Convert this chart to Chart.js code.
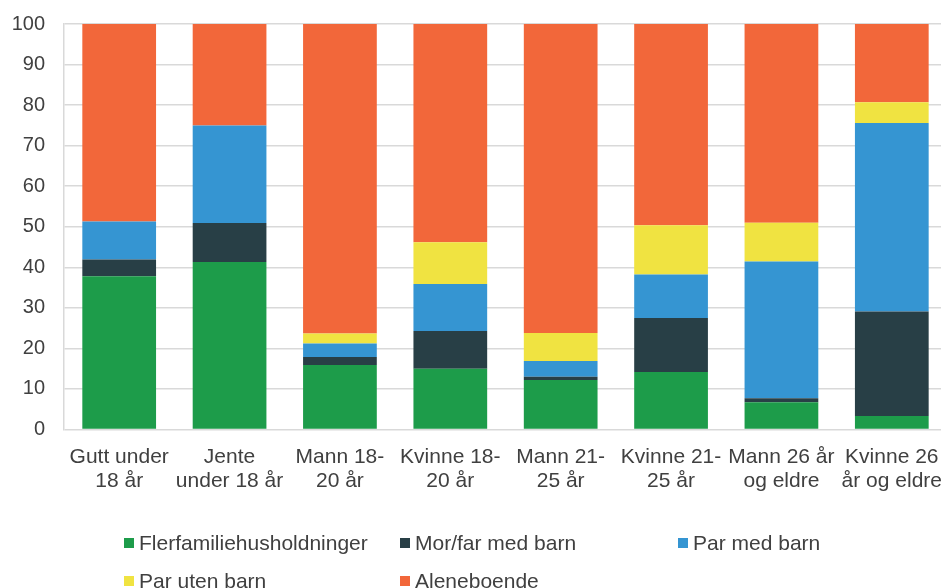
<!DOCTYPE html>
<html>
<head>
<meta charset="utf-8">
<script src="https://cdn.jsdelivr.net/npm/chart.js@4/dist/chart.umd.min.js"></script>
<style>
  html, body { margin: 0; padding: 0; background: #fff; overflow: hidden; width: 941px; height: 588px; }
  #wrap { position: relative; width: 957px; height: 588px; overflow: hidden; }
  #c { position: absolute; left: 0; top: -7px; }
  #legend { position: absolute; left: 0; top: 0; width: 941px; height: 588px; pointer-events: none;
            font-family: "Liberation Sans", Arial, sans-serif; font-size: 21px; color: #404040; }
  .item { position: absolute; display: flex; align-items: center; height: 24px; white-space: nowrap; }
  .box { width: 10px; height: 10px; margin-right: 5px; }
</style>
</head>
<body>
<div id="wrap">
  <canvas id="c" width="957" height="595"></canvas>
  <div id="legend"></div>
</div>
<script>
const categories = [
  ["Gutt under", "18 år"],
  ["Jente", "under 18 år"],
  ["Mann 18-", "20 år"],
  ["Kvinne 18-", "20 år"],
  ["Mann 21-", "25 år"],
  ["Kvinne 21-", "25 år"],
  ["Mann 26 år", "og eldre"],
  ["Kvinne 26", "år og eldre"]
];
const seriesNames = ["Flerfamiliehusholdninger", "Mor/far med barn", "Par med barn", "Par uten barn", "Aleneboende"];
const flerfamilie = [37.8, 41.3, 15.9, 15.0, 12.2, 14.2, 6.7, 3.3];
const morFarMedBarn = [4.1, 9.6, 2.0, 9.3, 0.8, 13.3, 1.0, 25.8];
const parMedBarn = [9.4, 24.1, 3.3, 11.6, 3.9, 10.7, 33.7, 46.5];
const parUtenBarn = [0, 0, 2.5, 10.3, 6.9, 12.2, 9.6, 5.1];
const aleneboende = [48.7, 25.0, 76.3, 53.8, 76.2, 49.6, 49.0, 19.3];
const colors = ["#1d9c4a", "#283f46", "#3595d2", "#f0e341", "#f2673a"];

const seriesValues = [flerfamilie, morFarMedBarn, parMedBarn, parUtenBarn, aleneboende];
const font = "'Liberation Sans', Arial, sans-serif";

new Chart(document.getElementById('c'), {
  type: 'bar',
  data: {
    labels: categories,
    datasets: seriesNames.map((n, i) => ({
      label: n,
      data: seriesValues[i],
      backgroundColor: colors[i],
      borderWidth: 0,
      barPercentage: 0.668,
      categoryPercentage: 1.0
    }))
  },
  options: {
    responsive: false,
    animation: false,
    layout: { padding: { top: 17, right: 0, bottom: 0, left: 0 } },
    plugins: { legend: { display: false }, tooltip: { enabled: false } },
    scales: {
      x: {
        stacked: true,
        grid: { display: false, drawTicks: false },
        border: { display: false },
        ticks: {
          color: '#404040', font: { family: font, size: 21, lineHeight: 1.18 },
          maxRotation: 0, minRotation: 0, autoSkip: false, padding: 15
        },
        afterFit: s => { s.height = 158.5; }
      },
      y: {
        stacked: true,
        min: 0, max: 100,
        grid: { color: '#d9d9d9', lineWidth: 1.5, drawTicks: false },
        border: { color: '#d9d9d9', width: 1.5 },
        ticks: {
          stepSize: 10, color: '#404040', font: { family: font, size: 20 }, padding: 19
        },
        afterFit: s => { s.width = 64; }
      }
    }
  }
});

// HTML legend laid out like the original (grid of 3 columns)
const legendPos = [
  { x: 124, y: 531 }, { x: 400, y: 531 }, { x: 678, y: 531 },
  { x: 124, y: 569 }, { x: 400, y: 569 }
];
const lg = document.getElementById('legend');
seriesNames.forEach((n, i) => {
  const d = document.createElement('div');
  d.className = 'item';
  d.style.left = legendPos[i].x + 'px';
  d.style.top = legendPos[i].y + 'px';
  d.innerHTML = '<span class="box" style="background:' + colors[i] + '"></span><span>' + n + '</span>';
  lg.appendChild(d);
});
</script>
</body>
</html>
